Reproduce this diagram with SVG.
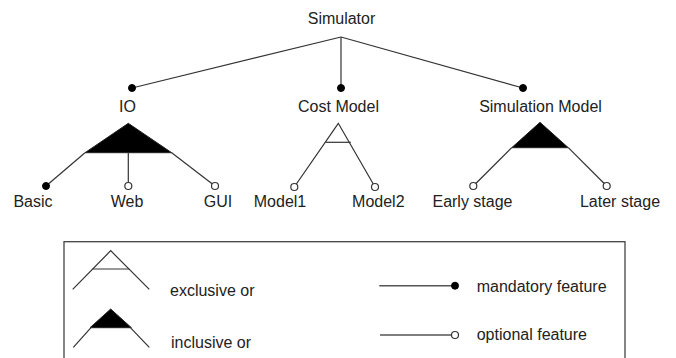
<svg xmlns="http://www.w3.org/2000/svg" width="676" height="358" viewBox="0 0 676 358">
<style>
text{font-family:"Liberation Sans",Arial,sans-serif;font-size:16px;fill:#222}
.ln{stroke:#333;stroke-width:1.2;fill:none}
.lg{stroke:#555;stroke-width:1.6;fill:none}
.tri{fill:#000;stroke:#222;stroke-width:1}
.man{fill:#000;stroke:#000;stroke-width:1}
.opt{fill:#fff;stroke:#333;stroke-width:1.2}
</style>
<rect width="676" height="358" fill="#fff"/>
<g id="connectors">
<line class="ln" x1="341" y1="37" x2="132" y2="88"/>
<line class="ln" x1="341" y1="37" x2="341" y2="88"/>
<line class="ln" x1="341" y1="37" x2="523" y2="88"/>
<polygon class="tri" points="128.3,123.3 85,152.7 171.7,152.7"/>
<line class="ln" x1="85" y1="152.7" x2="46" y2="186"/>
<line class="ln" x1="128.3" y1="152.7" x2="128.3" y2="186"/>
<line class="ln" x1="171.7" y1="152.7" x2="215" y2="186"/>
<polyline class="ln" points="294.3,187 338.3,123.3 375,187"/>
<line class="ln" x1="325.4" y1="142.3" x2="350.8" y2="142.3"/>
<polygon class="tri" points="540,122.3 511.7,147.7 568.3,147.7"/>
<line class="ln" x1="511.7" y1="147.7" x2="473.3" y2="186"/>
<line class="ln" x1="568.3" y1="147.7" x2="606.7" y2="186"/>
</g>
<g id="simulator"><text x="341.5" y="24" text-anchor="middle">Simulator</text></g>
<g id="io"><circle class="man" cx="132" cy="88" r="3.5"/><text x="127.5" y="112" text-anchor="middle">IO</text></g>
<g id="costmodel"><circle class="man" cx="341" cy="88" r="3.5"/><text x="338.5" y="112" text-anchor="middle">Cost Model</text></g>
<g id="simmodel"><circle class="man" cx="523" cy="88" r="3.5"/><text x="540.5" y="112" text-anchor="middle">Simulation Model</text></g>
<g id="basic"><circle class="man" cx="46" cy="186" r="3.5"/><text x="33" y="207" text-anchor="middle">Basic</text></g>
<g id="web"><circle class="opt" cx="128.3" cy="186" r="3.5"/><text x="127" y="207" text-anchor="middle">Web</text></g>
<g id="gui"><circle class="opt" cx="215" cy="186" r="3.5"/><text x="218" y="207" text-anchor="middle">GUI</text></g>
<g id="model1"><circle class="opt" cx="294.3" cy="187" r="3.5"/><text x="280" y="207" text-anchor="middle">Model1</text></g>
<g id="model2"><circle class="opt" cx="375" cy="187" r="3.5"/><text x="378.3" y="207" text-anchor="middle">Model2</text></g>
<g id="early"><circle class="opt" cx="473.3" cy="186" r="3.5"/><text x="472.5" y="207" text-anchor="middle">Early stage</text></g>
<g id="later"><circle class="opt" cx="606.7" cy="186" r="3.5"/><text x="620" y="207" text-anchor="middle">Later stage</text></g>
<g id="legend">
<rect x="64" y="241.7" width="561" height="130" fill="none" stroke="#444" stroke-width="1.3"/>
<polyline class="ln" points="72.7,289.3 110.7,250.7 149.3,289.3"/>
<line class="ln" x1="92.3" y1="269" x2="129.3" y2="269"/>
<text x="170" y="296">exclusive or</text>
<polygon class="tri" points="110.7,309 90,327.7 131.4,327.7"/>
<polyline class="ln" points="73.3,347.3 91,327.7"/>
<polyline class="ln" points="130.4,327.7 149.3,347.3"/>
<text x="171" y="348">inclusive or</text>
<line class="lg" x1="379.3" y1="285.7" x2="455" y2="285.7"/>
<circle class="man" cx="455" cy="285.7" r="3.5"/>
<text x="476.7" y="291.5">mandatory feature</text>
<line class="lg" x1="380" y1="335" x2="451.5" y2="335"/>
<circle class="opt" cx="455" cy="335" r="3.5"/>
<text x="476.7" y="340">optional feature</text>
</g>
</svg>
